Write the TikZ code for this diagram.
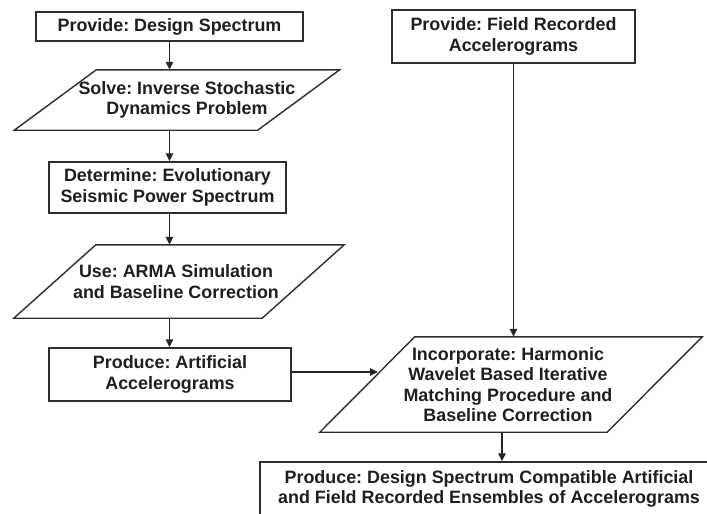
\documentclass[tikz,border=0pt]{standalone}
\usepackage{fontspec}
\setmainfont{Liberation Sans}
\usetikzlibrary{arrows.meta,calc}
\frenchspacing
\begin{document}
\begin{tikzpicture}[x=1pt,y=-1pt,
  txt/.style={font=\bfseries\fontsize{17.9}{20.5}\selectfont, text=black!88, align=center, inner sep=0pt},
  boxnode/.style={txt, rectangle, draw=black!82, line width=1.4pt},
  paranode/.style={txt, rectangle, draw=none},
  shapeline/.style={draw=black!82, line width=1.4pt, line join=miter},
  arr/.style={draw=black!85, line width=1.3pt, -{Triangle[length=8pt,width=7.5pt]}}
]
\newcommand\parashape[3]{%
  \draw[shapeline] ($(#1.north west)+(#2/2+#3,0)$) -- ($(#1.north east)+(#2/2+#3,0)$) --
    ($(#1.south east)+(-#2/2+#3,0)$) -- ($(#1.south west)+(-#2/2+#3,0)$) -- cycle;}
\fill[white] (0,0) rectangle (707,514);
\useasboundingbox (0,0) rectangle (707,514);

% left column
\node[boxnode, minimum width=267, minimum height=29] (b1) at (169.5,26.5) {Provide: Design Spectrum};
\node[paranode, minimum width=243, minimum height=60] (p2) at (187,100) {Solve: Inverse Stochastic\\Dynamics Problem};
\parashape{p2}{82}{-10}
\node[boxnode, minimum width=237, minimum height=51] (b3) at (167.5,187.5) {Determine: Evolutionary\\Seismic Power Spectrum};
\node[paranode, minimum width=248, minimum height=73] (p4) at (176,281.5) {Use: ARMA Simulation\\and Baseline Correction};
\parashape{p4}{82}{3}
\node[boxnode, minimum width=242, minimum height=53] (b5) at (170,374.5) {Produce: Artificial\\Accelerograms};

% right column
\node[boxnode, minimum width=243, minimum height=53] (b6) at (513.5,36.5) {Provide: Field Recorded\\Accelerograms};
\node[paranode, minimum width=287, minimum height=95] (inc) at (508,384.5) {Incorporate: Harmonic\\Wavelet Based Iterative\\Matching Procedure and\\Baseline Correction};
\parashape{inc}{95}{3}
\node[boxnode, minimum width=458, minimum height=54] (fin) at (489,489) {Produce: Design Spectrum Compatible Artificial\\and Field Recorded Ensembles of Accelerograms};

% connectors
\draw[arr] (b1.south) -- (b1.south |- p2.north);
\draw[arr] (p2.south -| b1.south) -- (b3.north -| b1.south);
\draw[arr] (b3.south -| b1.south) -- (p4.north -| b1.south);
\draw[arr] (p4.south -| b1.south) -- (b5.north -| b1.south);
\draw[arr] (b6.south) -- (b6.south |- inc.north);
\coordinate (hin) at (378,372);
\draw[arr] (b5.east |- hin) -- (hin);
\coordinate (vout) at (502,432);
\draw[arr] (vout |- inc.south) -- (vout |- fin.north);
\end{tikzpicture}
\end{document}
